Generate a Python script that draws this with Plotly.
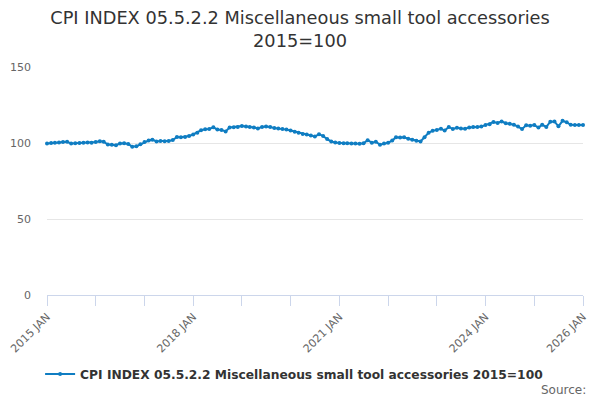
import pandas as pd
import plotly.graph_objects as go

# monthly index values, Jan 2015 .. Jan 2026
values_2015 = [99.6, 100.0, 100.2, 100.4, 100.6, 100.8, 99.6, 99.8, 100.0, 100.2, 100.3, 100.2]
values_2016 = [100.6, 101.2, 100.8, 99.0, 98.8, 98.5, 99.6, 99.8, 99.4, 97.6, 97.8, 99.2]
values_2017 = [100.6, 101.6, 102.2, 101.0, 101.3, 101.2, 101.3, 102.0, 104.0, 103.8, 104.0, 104.6]
values_2018 = [105.6, 106.8, 108.4, 109.0, 109.2, 110.3, 108.8, 108.6, 107.6, 110.2, 110.4, 110.6]
values_2019 = [111.2, 110.8, 110.6, 110.2, 109.6, 110.6, 110.8, 110.6, 109.8, 109.6, 109.2, 108.8]
values_2020 = [108.2, 107.4, 106.8, 106.0, 105.6, 105.0, 104.2, 105.8, 104.6, 102.6, 101.0, 100.4]
values_2021 = [100.0, 99.8, 99.9, 99.6, 99.7, 99.5, 99.8, 101.8, 100.2, 100.8, 98.9, 99.6]
values_2022 = [100.2, 101.6, 103.8, 103.6, 103.8, 102.8, 102.2, 101.4, 101.0, 103.8, 106.8, 108.0]
values_2023 = [108.6, 109.4, 108.2, 110.6, 109.2, 110.0, 109.6, 109.4, 110.2, 110.6, 110.6, 110.8]
values_2024 = [111.8, 112.4, 113.8, 113.2, 114.2, 113.0, 112.6, 112.0, 110.8, 109.2, 111.6, 111.4]
values_2025 = [111.8, 110.2, 112.0, 110.6, 114.0, 114.2, 111.0, 114.6, 113.6, 112.0, 111.8, 111.8]
values_2026 = [111.8]

values = (values_2015 + values_2016 + values_2017 + values_2018 + values_2019 + values_2020
          + values_2021 + values_2022 + values_2023 + values_2024 + values_2025 + values_2026)
months = pd.date_range("2015-01-01", periods=len(values), freq="MS")

tick_years = list(range(2015, 2027))
labelled_years = [2015, 2018, 2021, 2024, 2026]
tick_vals = [f"{y}-01-01" for y in tick_years]
tick_text = [f"{y} JAN" if y in labelled_years else "" for y in tick_years]

series_name = "CPI INDEX 05.5.2.2 Miscellaneous small tool accessories 2015=100"
line_colour = "#0f7dc2"

fig = go.Figure()
fig.add_trace(go.Scatter(
    x=months,
    y=values,
    mode="lines+markers",
    name=series_name,
    line=dict(color=line_colour, width=2),
    marker=dict(color=line_colour, size=4),
    cliponaxis=False,
))

# the page body adds an 8px offset, so margins are shifted to compensate
fig.update_layout(
    width=600,
    height=400,
    paper_bgcolor="white",
    plot_bgcolor="white",
    font=dict(family="DejaVu Sans", color="#666666", size=11),
    margin=dict(l=39, r=25, t=59, b=113, autoexpand=False),
    title=dict(
        text="CPI INDEX 05.5.2.2 Miscellaneous small tool accessories<br>2015=100",
        x=0.4867,
        xanchor="center",
        y=0.96,
        yanchor="top",
        font=dict(size=17.75, color="#333333"),
    ),
    showlegend=True,
    legend=dict(
        orientation="h",
        x=0.461,
        xanchor="center",
        y=-0.2825,
        yanchor="top",
        font=dict(size=12.25, color="#333333", weight="bold"),
    ),
    annotations=[dict(
        text="Source:",
        xref="paper", yref="paper",
        x=1.0093, y=-0.4167,
        xanchor="right", yanchor="middle",
        showarrow=False,
        font=dict(size=12, color="#666666"),
    )],
)

fig.update_xaxes(
    range=["2015-01-01", "2026-01-01"],
    tickvals=tick_vals,
    ticktext=tick_text,
    tickangle=-45,
    ticks="outside",
    ticklen=10,
    tickcolor="#ccd6eb",
    showline=True,
    linecolor="#ccd6eb",
    showgrid=False,
    zeroline=False,
    automargin=False,
)
fig.update_yaxes(
    range=[0, 150],
    tickvals=[0, 50, 100, 150],
    showgrid=True,
    gridcolor="#e6e6e6",
    zeroline=False,
    ticks="",
    ticklabelstandoff=15,
    automargin=False,
)

fig.write_html("out.html")
